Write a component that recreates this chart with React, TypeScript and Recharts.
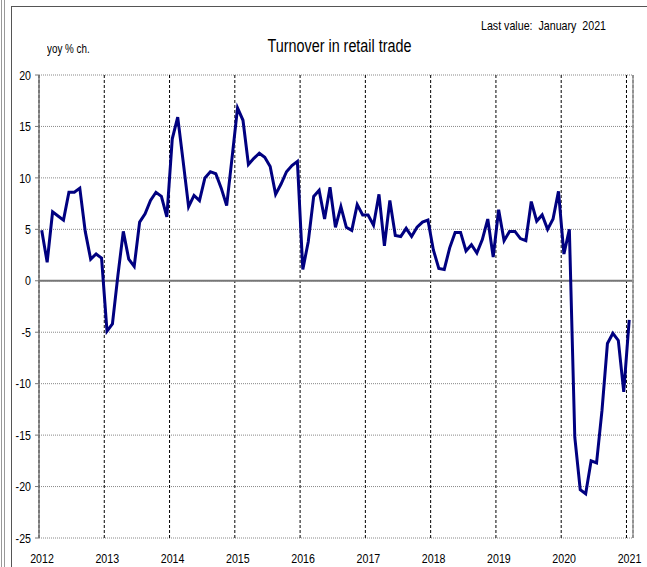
import React from "react";
import { LineChart, Line, XAxis, YAxis, CartesianGrid, ReferenceLine } from "recharts";

const years = [2012, 2013, 2014, 2015, 2016, 2017, 2018, 2019, 2020, 2021];
const yTicks = [-25, -20, -15, -10, -5, 0, 5, 10, 15, 20];

const v2012 = [4.9, 1.8, 6.7, 6.3, 5.9, 8.6, 8.6, 9.0, 4.8, 2.1, 2.6, 2.2];
const v2013 = [-4.9, -4.2, 0.5, 4.8, 2.1, 1.4, 5.7, 6.5, 7.8, 8.6, 8.2, 6.2];
const v2014 = [13.8, 15.9, 11.6, 7.2, 8.3, 7.8, 10.0, 10.6, 10.4, 9.0, 7.3, 12.0];
const v2015 = [16.8, 15.6, 11.3, 11.9, 12.4, 12.0, 11.1, 8.4, 9.4, 10.6, 11.2, 11.6];
const v2016 = [1.1, 3.8, 8.2, 8.8, 6.0, 9.1, 5.2, 7.2, 5.2, 4.9, 7.4, 6.4];
const v2017 = [6.4, 5.4, 8.4, 3.4, 7.8, 4.4, 4.3, 5.1, 4.3, 5.2, 5.7, 5.9];
const v2018 = [3.0, 1.2, 1.1, 3.2, 4.7, 4.7, 2.9, 3.5, 2.7, 4.0, 6.0, 2.3];
const v2019 = [6.9, 3.9, 4.8, 4.8, 4.1, 3.9, 7.7, 5.8, 6.4, 5.0, 6.0, 8.7];
const v2020 = [2.6, 5.0, -15.2, -20.3, -20.7, -17.5, -17.7, -12.6, -6.1, -5.1, -5.8, -10.8];
const v2021 = [-3.8];

const values = [
  ...v2012, ...v2013, ...v2014, ...v2015, ...v2016,
  ...v2017, ...v2018, ...v2019, ...v2020, ...v2021,
];

const data = values.map((v, i) => ({ i, v }));
const xTicks = years.map((_, k) => k * 12 - 0.5);
const X_MAX = 108.7;

const FONT = "'Liberation Sans', Arial, sans-serif";
const SX = 0.82;

const XTick = (props: any) => {
  const { x, y, payload } = props;
  const label = String(2012 + Math.round((payload.value + 0.5) / 12));
  return (
    <text
      transform={`translate(${x + 3},${y}) scale(${SX},1)`}
      textAnchor="middle"
      dy="0.75em"
      fontSize={13}
      fontFamily={FONT}
      fill="#000"
    >
      {label}
    </text>
  );
};

const YTick = (props: any) => {
  const { x, y, payload } = props;
  return (
    <text
      transform={`translate(${x},${y}) scale(${SX},1)`}
      textAnchor="end"
      dy="0.36em"
      fontSize={13}
      fontFamily={FONT}
      fill="#000"
    >
      {payload.value}
    </text>
  );
};

export default function App() {
  return (
    <div style={{ position: "absolute", left: 0, top: 0, width: 647, height: 567, background: "#fff", fontFamily: FONT, overflow: "hidden" }}>
      <div style={{ position: "absolute", left: 1, top: 0, width: 1, height: 567, background: "#999" }} />
      <div style={{ position: "absolute", left: 4, top: 0, width: 1, height: 567, background: "#999" }} />
      <div style={{ position: "absolute", left: 11, top: 6, width: 640, height: 570, borderLeft: "1px solid #555", borderTop: "1px solid #555" }} />
      <div style={{ position: "absolute", left: 481, top: 18, fontSize: 13, lineHeight: "15px", color: "#000", whiteSpace: "pre", transform: `scaleX(${SX})`, transformOrigin: "0 0" }}>Last value:  January  2021</div>
      <div style={{ position: "absolute", left: 0, width: 679, top: 36, textAlign: "center", fontSize: 17.5, lineHeight: "20px", color: "#000", transform: `scaleX(${SX})`, transformOrigin: "339.5px 0" }}>Turnover in retail trade</div>
      <div style={{ position: "absolute", left: 47, top: 42, fontSize: 12, lineHeight: "14px", color: "#000", whiteSpace: "pre", transform: `scaleX(${SX})`, transformOrigin: "0 0" }}>yoy % ch.</div>
      <div style={{ position: "absolute", left: 0, top: 0 }}>
        <LineChart width={647} height={567} data={data} margin={{ top: 75, right: 14, bottom: 9, left: 8 }}>
          <CartesianGrid horizontal={true} vertical={false} stroke="#888" strokeDasharray="1 1" />
          <CartesianGrid horizontal={false} vertical={true} stroke="#000" strokeDasharray="3 2" />
          <XAxis
            dataKey="i"
            type="number"
            domain={[-0.5, X_MAX]}
            ticks={xTicks}
            axisLine={false}
            tickLine={false}
            tickSize={8}
            tickMargin={7}
            height={20}
            interval={0}
            tick={<XTick />}
          />
          <YAxis
            type="number"
            domain={[-25, 20]}
            ticks={yTicks}
            width={31}
            interval={0}
            axisLine={{ stroke: "#777", strokeWidth: 1.5 }}
            tickLine={{ stroke: "#777" }}
            tickSize={4}
            tickMargin={4}
            tick={<YTick />}
          />
          <ReferenceLine y={0} stroke="#777" strokeWidth={2} />
          <ReferenceLine x={X_MAX} stroke="#999" strokeWidth={1.5} />
          <Line
            type="linear"
            dataKey="v"
            stroke="#000080"
            strokeWidth={3}
            dot={false}
            isAnimationActive={false}
          />
        </LineChart>
      </div>
    </div>
  );
}
